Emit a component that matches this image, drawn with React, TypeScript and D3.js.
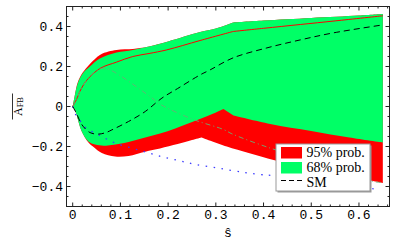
import * as d3 from 'd3';

type Pt = [number, number];

// 95% probability band ([s-hat, A_FB])
const band95Upper: Pt[] = [
  [0, 0], [0.004, 0.05], [0.0105, 0.12], [0.021, 0.17], [0.036, 0.213], [0.057, 0.258],
  [0.075, 0.275], [0.092, 0.283], [0.126, 0.287], [0.141, 0.292], [0.16, 0.3], [0.2, 0.325],
  [0.267, 0.372], [0.3, 0.39], [0.336, 0.42], [0.4, 0.43], [0.5, 0.443], [0.6, 0.455], [0.65, 0.463],
];
const band95Lower: Pt[] = [
  [0, 0], [0.004, -0.015], [0.008, -0.04], [0.019, -0.125], [0.033, -0.18], [0.045, -0.205],
  [0.061, -0.233], [0.089, -0.25], [0.117, -0.247], [0.152, -0.226], [0.183, -0.21], [0.22, -0.188],
  [0.25, -0.168], [0.27, -0.155], [0.323, -0.2], [0.421, -0.267], [0.5, -0.31], [0.58, -0.348], [0.65, -0.383],
];

// 68% probability band
const band68Upper: Pt[] = [
  [0, 0], [0.004, 0.05], [0.0105, 0.115], [0.021, 0.165], [0.036, 0.2], [0.057, 0.24],
  [0.092, 0.27], [0.126, 0.283], [0.16, 0.3], [0.2, 0.325], [0.267, 0.372], [0.3, 0.39],
  [0.336, 0.42], [0.4, 0.43], [0.5, 0.443], [0.6, 0.455], [0.65, 0.463],
];
const band68Lower: Pt[] = [
  [0, 0], [0.004, -0.015], [0.008, -0.04], [0.019, -0.125], [0.033, -0.175], [0.047, -0.19],
  [0.065, -0.196], [0.082, -0.192], [0.117, -0.177], [0.152, -0.155], [0.183, -0.135], [0.215, -0.11],
  [0.253, -0.075], [0.29, -0.04], [0.316, -0.012], [0.337, -0.045], [0.414, -0.087], [0.5, -0.122],
  [0.58, -0.155], [0.65, -0.18],
];

// lines
const centralLine: Pt[] = [
  [0, 0], [0.004, 0.018], [0.008, 0.035], [0.015, 0.075], [0.029, 0.13], [0.057, 0.19],
  [0.092, 0.222], [0.126, 0.25], [0.16, 0.265], [0.197, 0.283], [0.267, 0.33], [0.336, 0.375],
  [0.4, 0.391], [0.477, 0.41], [0.55, 0.428], [0.65, 0.4535],
];
const smLine: Pt[] = [
  [0, 0], [0.008, -0.035], [0.019, -0.09], [0.036, -0.13], [0.054, -0.138], [0.07, -0.13],
  [0.082, -0.117], [0.117, -0.075], [0.152, -0.025], [0.187, 0.042], [0.22, 0.09], [0.267, 0.158],
  [0.288, 0.183], [0.336, 0.243], [0.407, 0.293], [0.477, 0.333], [0.546, 0.368], [0.65, 0.408],
];
const dashDotLine: Pt[] = [
  [0, 0], [0.008, 0.035], [0.015, 0.075], [0.029, 0.13], [0.045, 0.17], [0.06, 0.19], [0.078, 0.183],
  [0.162, 0.05], [0.183, 0.012], [0.253, -0.065], [0.316, -0.115], [0.335, -0.138],
  [0.414, -0.208], [0.5, -0.27], [0.63, -0.375], [0.65, -0.38],
];
const dottedLine: Pt[] = [
  [0, 0], [0.005, -0.035], [0.015, -0.07], [0.029, -0.11], [0.057, -0.145], [0.089, -0.183],
  [0.124, -0.208], [0.159, -0.232], [0.19, -0.253], [0.225, -0.272], [0.258, -0.29], [0.309, -0.31],
  [0.361, -0.33], [0.393, -0.34], [0.418, -0.345], [0.5, -0.37], [0.64, -0.415],
];

// corners where the curves are not smooth
const kinks95 = [0.27, 0.336];
const kinks68 = [0.316, 0.337, 0.336];

const xTicks = [0, 0.1, 0.2, 0.3, 0.4, 0.5, 0.6];
const xTickLabels = ['0', '0.1', '0.2', '0.3', '0.4', '0.5', '0.6'];
const yTicks = [-0.4, -0.2, 0, 0.2, 0.4];
const yTickLabels = ['\u22120.4', '\u22120.2', '0', '0.2', '0.4'];
const legendLabels = ['95% prob.', '68% prob.', 'SM'];

const W = 400;
const H = 247;
const RED = '#ff0000';
const GREEN = '#00ff66';

const x = d3.scaleLinear().domain([-0.013, 0.664]).range([66.5, 389.5]);
const y = d3.scaleLinear().domain([-0.5, 0.5]).range([206.5, 6.5]);

const line = d3.line<Pt>()
  .x(d => x(d[0]))
  .y(d => y(d[1]))
  .curve(d3.curveCatmullRom.alpha(0.5));

// smooth curve, broken into pieces at the sharp corners
function smooth(pts: Pt[], sharp: number[] = []) {
  const segs: Pt[][] = [];
  let cur: Pt[] = [];
  pts.forEach((p, i) => {
    cur.push(p);
    if (i > 0 && i < pts.length - 1 && sharp.includes(p[0])) {
      segs.push(cur);
      cur = [p];
    }
  });
  segs.push(cur);
  return segs.map((s, i) => {
    const d = line(s) || '';
    return i === 0 ? d : 'L' + d.slice(1);
  }).join('');
}

function band(upper: Pt[], lower: Pt[], sharp: number[]) {
  return smooth(upper, sharp) + 'L' + smooth([...lower].reverse(), sharp).slice(1) + 'Z';
}

export default function App() {
  const [x0, x1] = x.range();
  const [yB, yT] = y.range();
  const xMinor = d3.range(0.02, 0.664, 0.02).filter(v => Math.abs(v * 10 - Math.round(v * 10)) > 1e-6);
  const yMinor = d3.range(-0.45, 0.5, 0.05).filter(v => Math.abs(v * 5 - Math.round(v * 5)) > 1e-6);
  const mono = '"Liberation Mono", monospace';
  const serif = '"Liberation Serif", serif';

  return (
    <svg width={W} height={H} style={{ position: 'absolute', left: 0, top: 0, background: '#fff' }}>
      <path d={band(band95Upper, band95Lower, kinks95)} fill={RED} />
      <path d={band(band68Upper, band68Lower, kinks68)} fill={GREEN} />

      <path d={smooth(centralLine, [0.336])} fill="none" stroke={RED} strokeWidth={1} />
      <path d={smooth(dashDotLine)} fill="none" stroke="#6aae74" strokeWidth={0.9} strokeDasharray="5,3,1,3" />
      <path d={smooth(dottedLine)} fill="none" stroke="#3b3bff" strokeWidth={1.3} strokeDasharray="1.5,6.5" />
      <path d={smooth(smLine)} fill="none" stroke="#000" strokeWidth={1} strokeDasharray="6,4" />

      {/* frame */}
      <rect x={x0} y={yT} width={x1 - x0} height={yB - yT} fill="none" stroke="#222" strokeWidth={1} />
      {xTicks.map(v => (
        <g key={'xt' + v}>
          <line x1={x(v)} x2={x(v)} y1={yB} y2={yB - 4} stroke="#222" />
          <line x1={x(v)} x2={x(v)} y1={yT} y2={yT + 4} stroke="#222" />
        </g>
      ))}
      {xMinor.map(v => (
        <g key={'xm' + v}>
          <line x1={x(v)} x2={x(v)} y1={yB} y2={yB - 2} stroke="#222" />
          <line x1={x(v)} x2={x(v)} y1={yT} y2={yT + 2} stroke="#222" />
        </g>
      ))}
      {yTicks.map(v => (
        <g key={'yt' + v}>
          <line x1={x0} x2={x0 + 4} y1={y(v)} y2={y(v)} stroke="#222" />
          <line x1={x1} x2={x1 - 4} y1={y(v)} y2={y(v)} stroke="#222" />
        </g>
      ))}
      {yMinor.map(v => (
        <g key={'ym' + v}>
          <line x1={x0} x2={x0 + 2} y1={y(v)} y2={y(v)} stroke="#222" />
          <line x1={x1} x2={x1 - 2} y1={y(v)} y2={y(v)} stroke="#222" />
        </g>
      ))}

      {/* tick labels */}
      {xTicks.map((v, i) => (
        <text key={'xl' + v} x={x(v)} y={219} textAnchor="middle" fontFamily={mono} fontSize={13} fill="#000">
          {xTickLabels[i]}
        </text>
      ))}
      {yTicks.map((v, i) => (
        <text key={'yl' + v} x={63} y={y(v) + 4.5} textAnchor="end" fontFamily={mono} fontSize={13} fill="#000">
          {yTickLabels[i]}
        </text>
      ))}

      {/* axis labels */}
      <text x={(x0 + x1) / 2} y={237} textAnchor="middle" fontFamily={mono} fontSize={13} fill="#000">ŝ</text>
      <g transform="translate(21.5,106.5) rotate(-90)">
        <text x={0} y={0} textAnchor="middle" fontFamily={serif} fill="#000">
          <tspan fontSize={12}>A</tspan>
          <tspan fontSize={8.5} dy={1}>FB</tspan>
        </text>
        <line x1={-13} x2={13} y1={-9} y2={-9} stroke="#000" strokeWidth={0.8} />
      </g>

      {/* legend */}
      <rect x={277.5} y={145.5} width={94} height={47} fill="#999" />
      <rect x={276} y={144} width={94} height={47} fill="#fff" stroke="#999" strokeWidth={1} />
      <rect x={281} y={147} width={21} height={11.5} fill={RED} />
      <rect x={281} y={162} width={21} height={11.5} fill={GREEN} />
      <line x1={281} x2={302} y1={180.5} y2={180.5} stroke="#000" strokeDasharray="5,3" />
      {legendLabels.map((t, i) => (
        <text key={t} x={306.5} y={157 + i * 14.8} fontFamily={serif} fontSize={14} fill="#000">{t}</text>
      ))}
    </svg>
  );
}
